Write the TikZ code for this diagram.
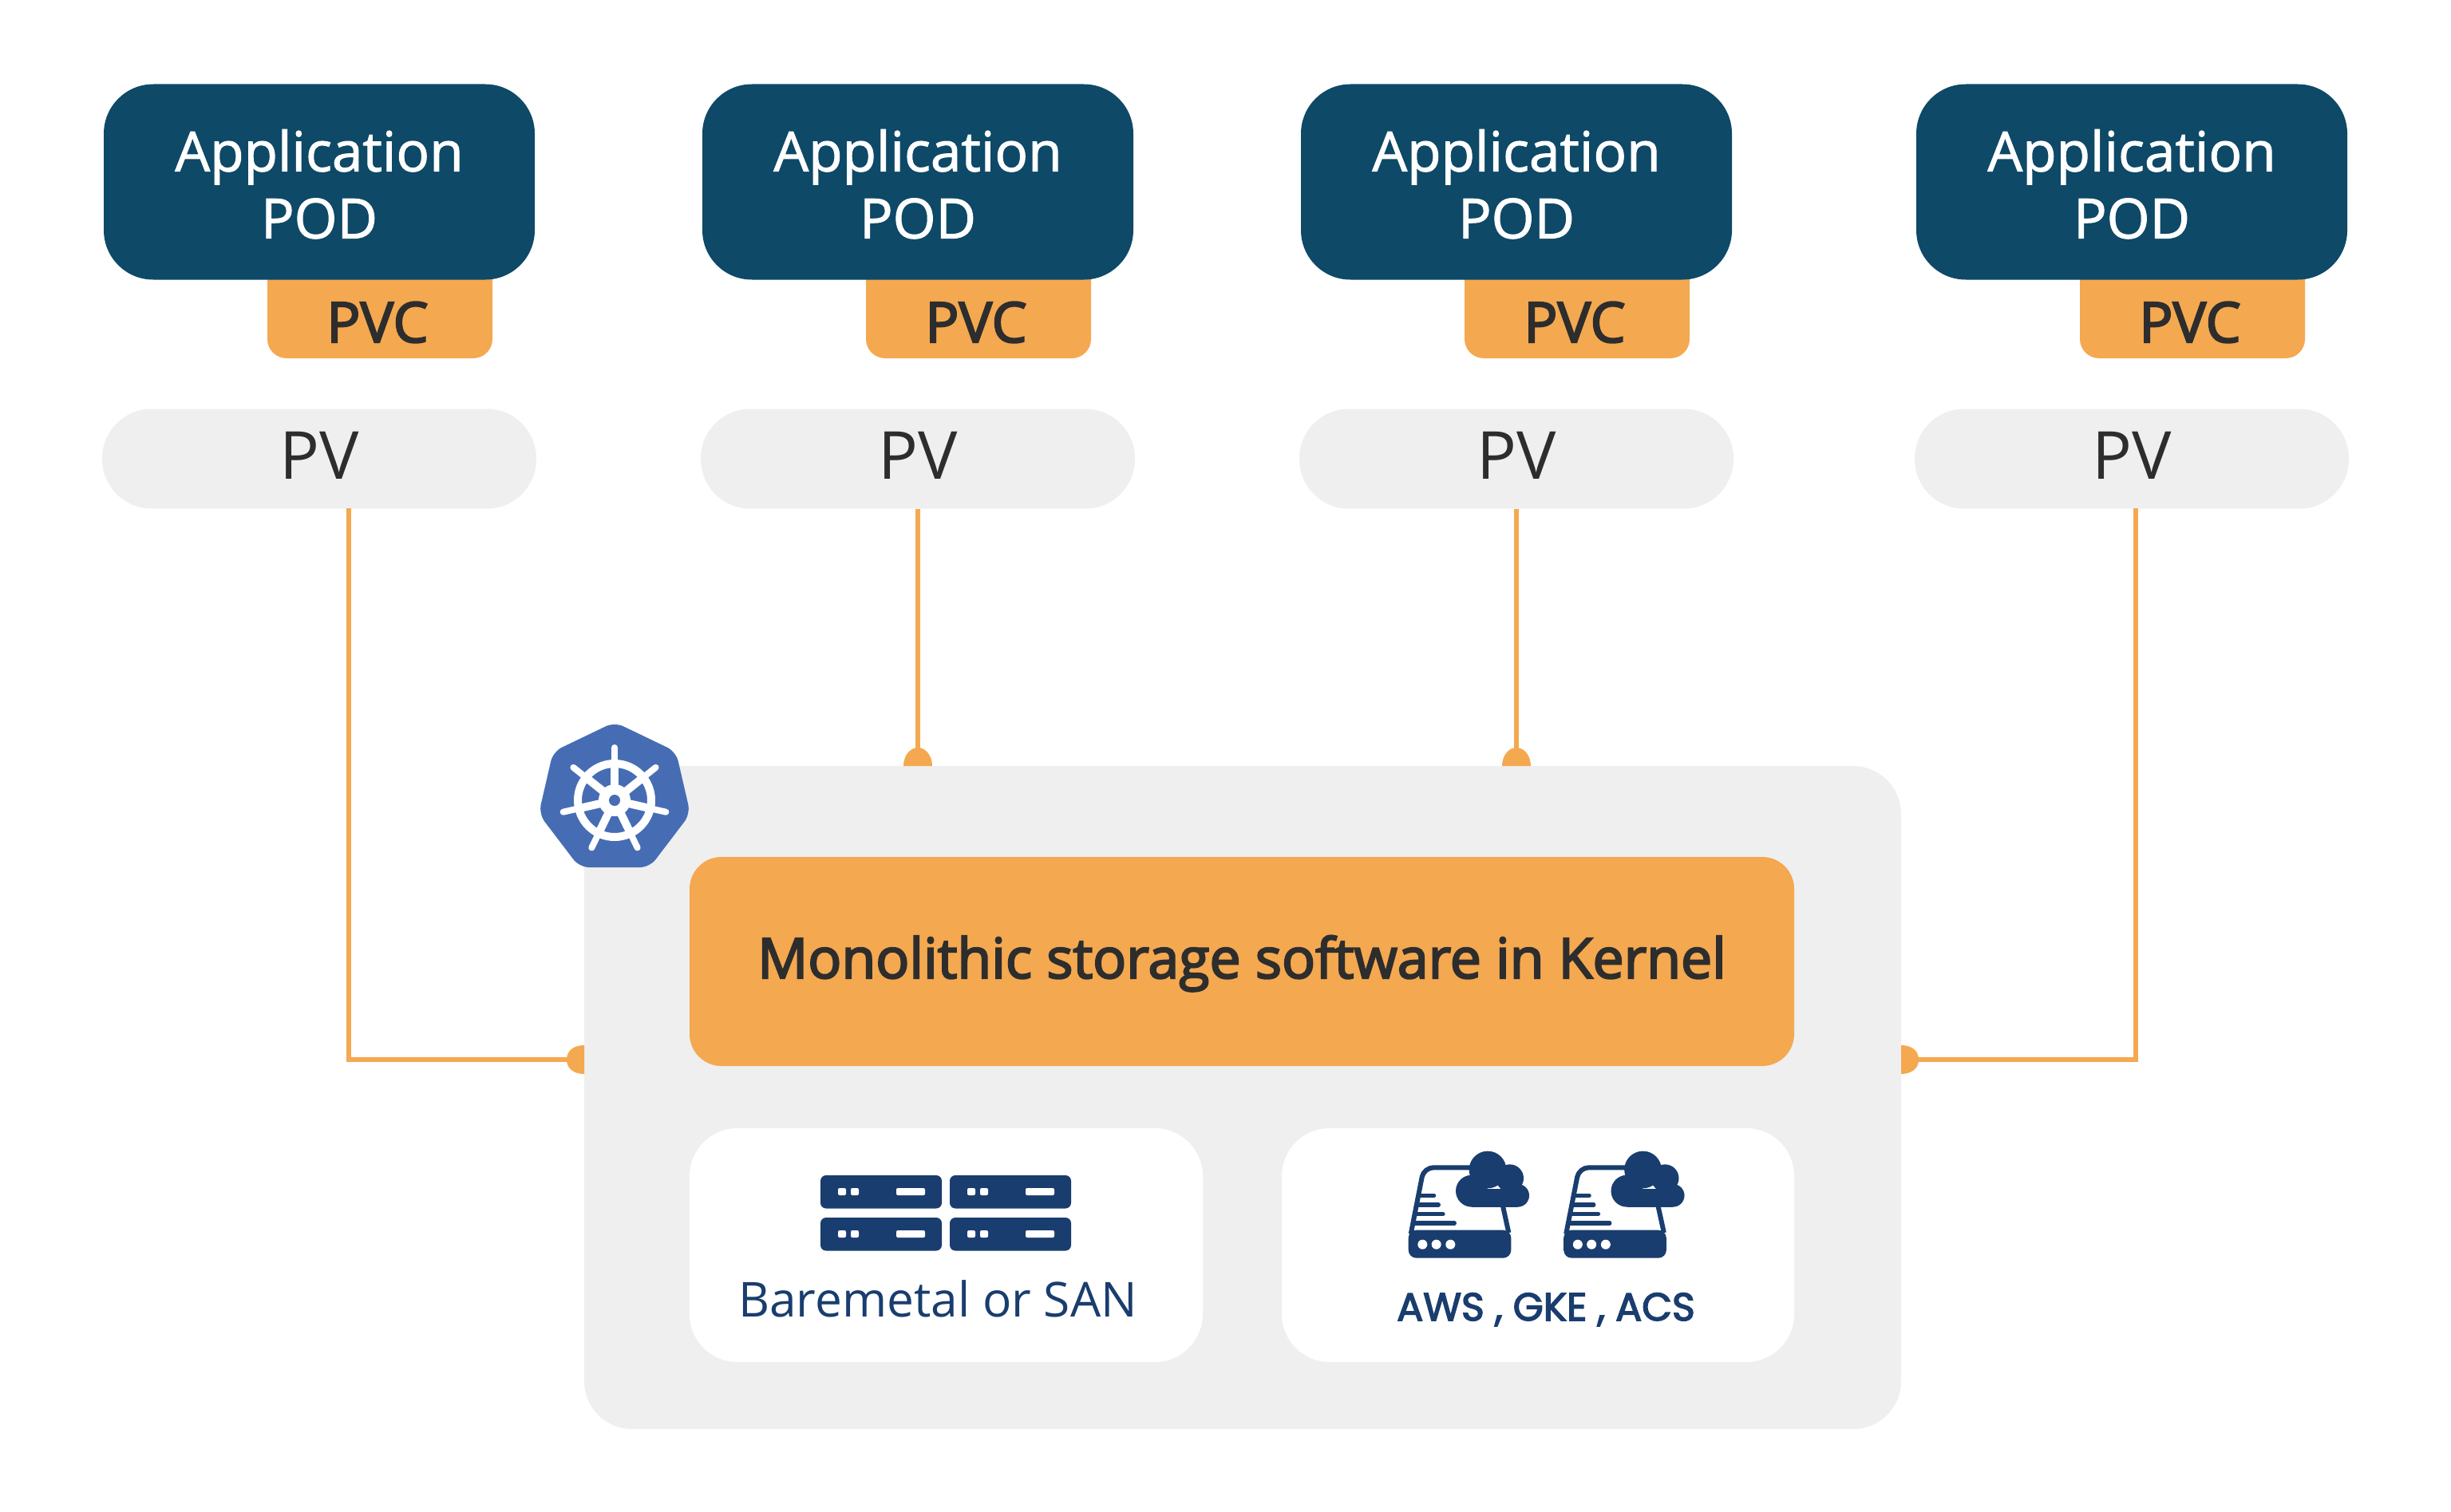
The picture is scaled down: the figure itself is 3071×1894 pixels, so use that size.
\documentclass[tikz,border=0pt]{standalone}
\usepackage{fontspec}
\setmainfont{Open Sans}
\newfontfamily\whfont[FakeBold=1.5]{Open Sans}
\newfontfamily\pvcfont[FakeBold=3]{Open Sans}
\newfontfamily\sbfont[FakeBold=3.2]{Open Sans}
\newfontfamily\awsfont[FakeBold=3]{Poppins}
\definecolor{podblue}{HTML}{0E4967}
\definecolor{amber}{HTML}{F4A850}
\definecolor{paleg}{HTML}{EFEFEF}
\definecolor{inkc}{HTML}{2D2D2D}
\definecolor{kblue}{HTML}{466DB4}
\definecolor{navy}{HTML}{193D6E}
\tikzset{
  podbox/.style={fill=podblue,text=white,rounded corners=31pt,minimum width=270pt,minimum height=122.5pt,inner sep=0pt,align=center,font=\whfont\fontsize{34.6}{42}\selectfont},
  pvcbox/.style={fill=amber,rounded corners=12pt,minimum width=141pt,minimum height=74pt,inner sep=0pt},
  pvclabel/.style={text=inkc,inner sep=0pt,font=\pvcfont\fontsize{35}{40}\selectfont},
  pvbox/.style={fill=paleg,text=inkc,rounded corners=31pt,minimum width=272pt,minimum height=62.5pt,inner sep=0pt,text depth=4pt,font=\fontsize{41.5}{46}\selectfont},
  mainbox/.style={fill=paleg,rounded corners=30pt,inner sep=0pt},
  kernelbox/.style={fill=amber,text=inkc,rounded corners=20pt,inner sep=0pt,text height=29.3pt,font=\sbfont\fontsize{34.9}{42}\selectfont},
  whitebox/.style={fill=white,rounded corners=30pt,inner sep=0pt},
  wire/.style={draw=amber,line width=2.6pt},
  plainlabel/.style={inner sep=0pt,text=navy},
}
\begin{document}
\begin{tikzpicture}[x=0.5pt,y=-0.5pt]
\useasboundingbox (0,0) rectangle (3071,1894);
% pods, claims and volumes
\foreach \n/\dx in {1/0,2/750,3/1500,4/2271}{
  \node[pvcbox] (pvc\n) at (476+\dx,375) {};
  \node[podbox] (pod\n) at (400+\dx,228) {\rule{0pt}{29pt}Application\\POD};
  \node[pvclabel,anchor=base] (pvcl\n) at (473+\dx,429) {PVC};
  \node[pvbox] (pv\n) at (400+\dx,575) {PV};
}
% main box
\node[mainbox,minimum width=825pt,minimum height=415.5pt] (main) at (1557,1375.5) {};
\node[kernelbox,minimum width=692pt,minimum height=131pt] (kernel) at (1556,1205) {Monolithic storage software in Kernel};
\node[whitebox,minimum width=321.5pt,minimum height=146.5pt] (bare) at (1185.5,1560.5) {};
\node[whitebox,minimum width=321pt,minimum height=146.5pt] (cloud) at (1927,1560.5) {};
% connectors
\coordinate (a1) at (437,637);
\coordinate (e1) at (716,1328);
\coordinate (a4) at (2676,637);
\coordinate (e4) at (2398,1328);
\coordinate (e2) at (pv2.south |- 0,945);
\coordinate (e3) at (pv3.south |- 0,945);
\draw[wire] (a1) |- (e1);
\draw[wire] (a4) |- (e4);
\draw[wire] (pv2.south) -- (e2);
\draw[wire] (pv3.south) -- (e3);
\fill[amber] (732,1310) -- (732,1346) .. controls (720,1346) and (710,1340) .. (710,1328) .. controls (710,1316) and (720,1310) .. (732,1310) -- cycle;
\fill[amber] (2382,1310) .. controls (2394,1310) and (2404,1316) .. (2404,1328) .. controls (2404,1340) and (2394,1346) .. (2382,1346) -- cycle;
\foreach \tx in {e2,e3}{
  \fill[amber] (\tx |- 0,960) ++(-18,0) arc (180:360:18 and 23) -- cycle;
}
% Kubernetes badge
\fill[kblue,rounded corners=6pt] (770,905) -- (847,942) -- (865,1020) -- (814,1087) -- (726,1087) -- (675,1020) -- (693,942) -- cycle;
\begin{scope}[shift={(770,1003)}]
  \draw[white,line width=5pt] (0,0) circle (46);
  \fill[white] (0,0) circle (20);
  \foreach \k in {0,...,6}{
    \pgfmathsetmacro{\ang}{270+\k*360/7}
    \draw[white,line width=5pt] (0,0) -- (\ang:46);
    \draw[white,line width=4pt,line cap=round] (\ang:46) -- (\ang:66);
  }
  \fill[kblue] (0,0) circle (7);
\end{scope}
% server icons
\foreach \sx/\sy in {1028/1473,1190/1473,1028/1526,1190/1526}{
  \fill[navy,rounded corners=3.5pt] (\sx,\sy) rectangle ++(152,41.5);
  \fill[white,rounded corners=1pt] (\sx+22,\sy+16) rectangle ++(10,9);
  \fill[white,rounded corners=1pt] (\sx+38,\sy+16) rectangle ++(10,9);
  \fill[white,rounded corners=1pt] (\sx+95,\sy+16) rectangle ++(36,9);
}
\node[plainlabel,anchor=base,font=\fontsize{30.2}{38}\selectfont] (barelabel) at (1175,1650) {Baremetal or SAN};
% cloud drive icons
\foreach \ox in {1720,1914.5}{
\begin{scope}[shift={(\ox,1430)},x=0.16667pt,y=-0.16667pt]
  \draw[navy,line width=3pt,rounded corners=6pt] (143,350) -- (192,100) -- (400,100);
  \draw[navy,line width=3pt] (488,240) -- (511,345);
  \fill[navy,rounded corners=5pt] (134,335) rectangle (520,440);
  \draw[navy,line width=2.6pt,line cap=round] (180,205) -- (230,205);
  \draw[navy,line width=2.6pt,line cap=round] (172,240) -- (247,240);
  \draw[navy,line width=2.6pt,line cap=round] (165,274) -- (264,274);
  \draw[navy,line width=2.6pt,line cap=round] (157,309) -- (307,309);
  \fill[white] (187,389) circle (18) (239,389) circle (18) (292,389) circle (18);
  \fill[navy] (432,108) circle (70);
  \fill[navy] (372,188) circle (60);
  \fill[navy] (515,140) circle (52);
  \fill[navy] (545,205) circle (43);
  \fill[navy] (372,180) rectangle (545,248);
\end{scope}
}
\node[plainlabel,anchor=base,font=\awsfont\fontsize{24.5}{30}\selectfont] (awslabel) at (1937,1655) {AWS , GKE , ACS};
\end{tikzpicture}
\end{document}
